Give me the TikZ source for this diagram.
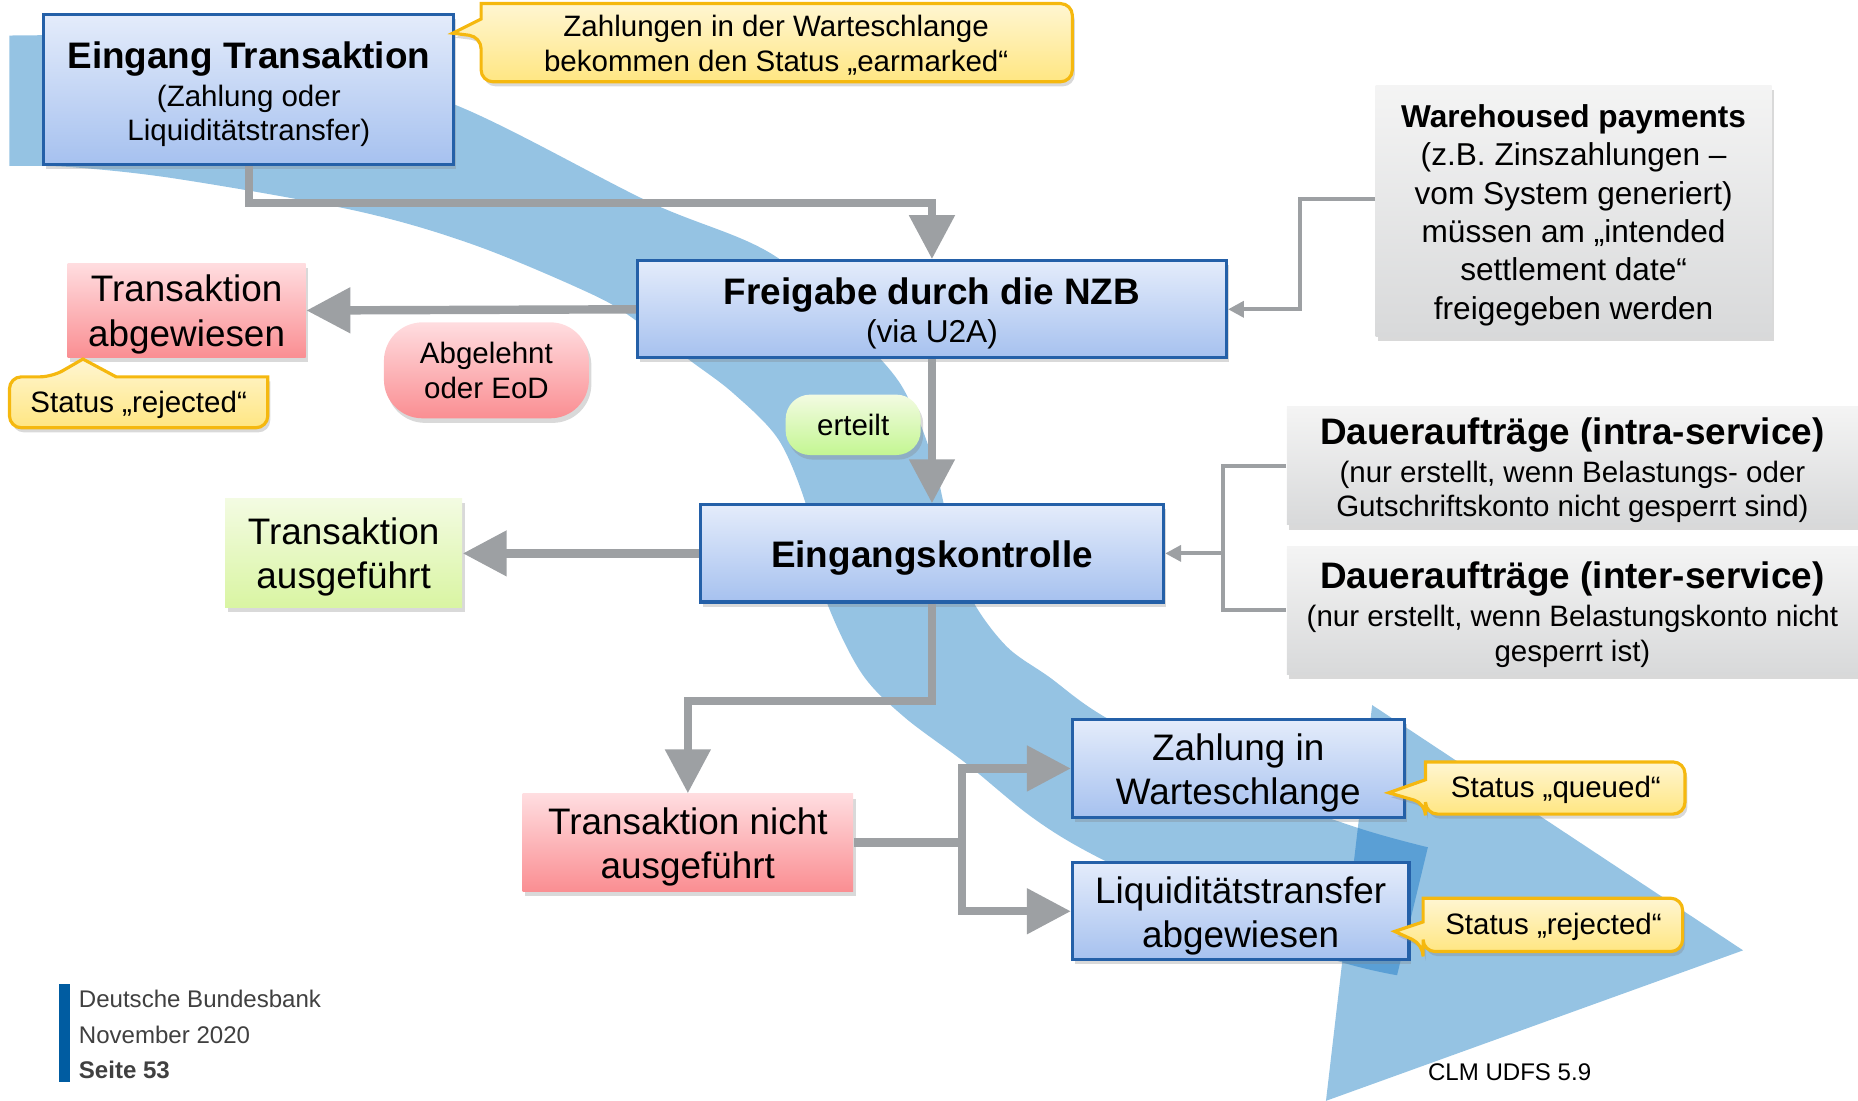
\documentclass[tikz,border=0pt]{standalone}
\usepackage{fontspec}
\setmainfont{Liberation Sans}
\usetikzlibrary{arrows.meta,shadows}

\definecolor{swoosh}{HTML}{95C3E3}
\definecolor{swooshdark}{HTML}{5A9FD5}
\definecolor{boxline}{HTML}{2460A8}
\definecolor{bluetop}{HTML}{E4ECFB}
\definecolor{bluebot}{HTML}{A6C1EF}
\definecolor{redtop}{HTML}{FFDDE0}
\definecolor{redbot}{HTML}{FA8E92}
\definecolor{greentop}{HTML}{F3FBE2}
\definecolor{greenbot}{HTML}{D9F5A2}
\definecolor{yeltop}{HTML}{FFF6D2}
\definecolor{yelbot}{HTML}{FFE682}
\definecolor{yelline}{HTML}{F5B80F}
\definecolor{graytop}{HTML}{F4F4F4}
\definecolor{graybot}{HTML}{D8D9DA}
\definecolor{conn}{HTML}{9DA0A3}
\definecolor{foot}{HTML}{404040}
\definecolor{footbar}{HTML}{005CA1}

\newcommand\fsmall{\fontsize{8.4}{9.8}\selectfont}
\newcommand\fbig{\fontsize{10.5}{12.6}\selectfont}
\newcommand\ftitle{\bfseries\fontsize{10.5}{12.6}\selectfont}

% outline of the broad blue flow band (outer edge, end cap, inner edge)
\newcommand\swooshpath{plot[smooth,tension=0.55] coordinates {(8,30) (100,32) (250,52) (383,88) (547,170) (657,218) (744,304) (770,343) (788,390) (798,432) (808,470) (822,509) (850,546) (885,571) (934,606) (1040,660) (1144,698) (1205,715)}
  -- plot[smooth,tension=0.55] coordinates {(1179,823) (1120,808) (1004,760) (920,720) (870,689) (815,644) (763,605) (727,568) (698,509) (686,460) (680,425) (657,371) (619,332) (582,304) (539,272) (501,249) (401,207) (301,178) (150,151) (60,141) (8,140)} -- cycle}
\newcommand\swooshhead{(1158,595) -- (1471,802) -- (1119,929) -- cycle}

\begin{document}
\begin{tikzpicture}[x=0.011849cm,y=-0.011849cm,
  % a node spanning the rectangle left:top:right:bottom
  span/.style args={#1:#2:#3:#4}{at={({(#1+#3)/2},{(#2+#4)/2})},
    minimum width={(#3-#1)*0.011849cm},minimum height={(#4-#2)*0.011849cm}},
  shade/.style={drop shadow={shadow xshift=0.7pt,shadow yshift=-1.3pt,opacity=0.3}},
  boxbase/.style={inner sep=0pt,shade},
  bluebox/.style={boxbase,draw=boxline,line width=0.9pt,top color=bluetop,bottom color=bluebot},
  redbox/.style={boxbase,top color=redtop,bottom color=redbot},
  greenbox/.style={boxbase,top color=greentop,bottom color=greenbot},
  graybox/.style={boxbase,top color=graytop,bottom color=graybot},
  pill/.style={boxbase,align=center,font=\fsmall},
  boxtext/.style={align=center,inner sep=0pt},
  note/.style={draw=yelline,line width=0.9pt,top color=yeltop,bottom color=yelbot,shade},
  notetext/.style={align=center,font=\fsmall,inner sep=0pt},
  thickline/.style={draw=conn,line width=2.4pt},
  thickarrow/.style={thickline,-{Triangle[length=12.5pt,width=12.5pt]}},
  thinline/.style={draw=conn,line width=1.1pt},
  thinarrow/.style={thinline,-{Triangle[length=4.5pt,width=4.5pt]}}]

\useasboundingbox (0,0) rectangle (1568,929);

% flow band with its arrow head
\fill[swoosh] \swooshpath;
\fill[swoosh] \swooshhead;
\begin{scope}
  \clip \swooshhead;
  \fill[swooshdark] \swooshpath;
\end{scope}

% process boxes
\node[bluebox,span=37:12:383:139] (eingang) {};
\node[bluebox,span=538:220:1035:302] (freigabe) {};
\node[bluebox,span=591:426:982:508] (eingk) {};
\node[bluebox,span=905:607:1185:690] (zahlung) {};
\node[bluebox,span=905:728:1189:810] (liquid) {};
\node[redbox,span=57:222:258:302] (abgew) {};
\node[redbox,span=441:670:720:752] (nicht) {};
\node[greenbox,span=190:421:390:513] (ausgef) {};
\node[graybox,span=1161:72:1495:284] (wh) {};
\node[graybox,span=1086:343:1568:443] (intra) {};
\node[graybox,span=1086:461:1568:569] (inter) {};

\node[boxtext,font=\fsmall] (eingang-t) at ([yshift=-1.3pt]eingang.center)
  {{\ftitle Eingang Transaktion}\\[1pt](Zahlung oder\\Liquiditätstransfer)};
\node[boxtext,font=\fontsize{9}{9.8}\selectfont] (freigabe-t) at ([yshift=-1.3pt]freigabe.center)
  {{\ftitle Freigabe durch die NZB}\\[1pt](via U2A)};
\node[boxtext,font=\ftitle] (eingk-t) at ([yshift=-1.3pt]eingk.center) {Eingangskontrolle};
\node[boxtext,font=\fbig] (zahlung-t) at ([yshift=-1.3pt]zahlung.center) {Zahlung in\\Warteschlange};
\node[boxtext,font=\fbig] (liquid-t) at ([yshift=-1.3pt]liquid.center) {Liquiditätstransfer\\abgewiesen};
\node[boxtext,font=\fbig] (abgew-t) at ([yshift=-1.1pt]abgew.center) {Transaktion\\abgewiesen};
\node[boxtext,font=\fbig] (nicht-t) at ([yshift=-1.3pt]nicht.center) {Transaktion nicht\\ausgeführt};
\node[boxtext,font=\fbig] (ausgef-t) at ([yshift=-1.1pt]ausgef.center) {Transaktion\\ausgeführt};
\node[boxtext,font=\fontsize{9}{10.9}\selectfont] (wh-t) at ([yshift=-1.2pt]wh.center)
  {\textbf{Warehoused payments}\\(z.B. Zinszahlungen –\\vom System generiert)\\müssen am „intended\\settlement date“\\freigegeben werden};
\node[boxtext,font=\fsmall] (intra-t) at ([yshift=-1.3pt]intra.center)
  {{\ftitle Daueraufträge (intra-service)}\\[1pt](nur erstellt, wenn Belastungs- oder\\Gutschriftskonto nicht gesperrt sind)};
\node[boxtext,font=\fsmall] (inter-t) at ([yshift=-1.3pt]inter.center)
  {{\ftitle Daueraufträge (inter-service)}\\[1pt](nur erstellt, wenn Belastungskonto nicht\\gesperrt ist)};

% decision labels
\node[pill,top color=redtop,bottom color=redbot,rounded corners=11pt,
  font=\fontsize{8.4}{10}\selectfont,span=324:272:497:353] (abgelehnt) {Abgelehnt\\oder EoD};
\node[pill,top color=greentop,bottom color=greenbot!90!green,rounded corners=7pt,
  span=663:333:777:384] (erteilt) {erteilt};

% status notes
\path[note] (406,31) [sharp corners] -- (382,28) -- (406,16) -- (406,3)
  [rounded corners=3.4pt] -- (905,3) -- (905,69) -- (406,69) -- cycle;
\node[notetext] (earmark) at (655,38)
  {Zahlungen in der Warteschlange\\bekommen den Status „earmarked“};

\path[note] (44,318) [sharp corners] -- (70,303) -- (98,318) -- (226,318)
  [rounded corners=3.4pt] -- (226,361) -- (8,361) -- (8,318) -- cycle;
\node[notetext] (rejleft) at (117,341.5) {Status „rejected“};

\path[note] (1203,678) [sharp corners] -- (1172,669) -- (1203,658) -- (1203,643)
  [rounded corners=3.4pt] -- (1422,643) -- (1422,687) -- (1203,687) -- cycle;
\node[notetext] (queued) at (1313,666.5) {Status „queued“};

\path[note] (1201,797) [sharp corners] -- (1177,786) -- (1201,778) -- (1201,758)
  [rounded corners=3.4pt] -- (1420,758) -- (1420,803) -- (1201,803) -- cycle;
\node[notetext] (rejright) at (1311,782.5) {Status „rejected“};

% main flow connectors
\draw[thickarrow] (eingang.south) -- ++(0,31) -| (freigabe.north);
\draw[thickarrow] (freigabe.west) -- (abgew.east);
\draw[thickarrow] (freigabe.south) -- (eingk.north);
\draw[thickarrow] (eingk.west) -- (ausgef.east);
\draw[thickarrow] (eingk.south) -- ++(0,82) -| (nicht.north);
\coordinate (fork) at (812,711);
\draw[thickline] (nicht.east) -- (fork);
\draw[thickarrow] (fork) |- (zahlung.west);
\draw[thickarrow] (fork) |- (liquid.west);

% feeds from the grey sources
\draw[thinarrow] ([yshift=3.4pt]wh.west) -- ++(-63,0) |- (freigabe.east);
\coordinate (join) at (1033,467);
\draw[thinline] (intra.west) -- ++(-53,0) |- (inter.west);
\draw[thinarrow] (join) -- (eingk.east);

% footer
\fill[footbar] (50,830) rectangle (59,913);
\node[anchor=west,align=left,text=foot,inner sep=0pt,font=\fontsize{6.85}{10.1}\selectfont] (footer) at (66,873)
  {Deutsche Bundesbank\\November 2020\\\textbf{Seite 53}};
\node[font=\fontsize{6.85}{8}\selectfont,inner sep=0pt] (source) at (1274,905) {CLM UDFS 5.9};
\end{tikzpicture}
\end{document}
